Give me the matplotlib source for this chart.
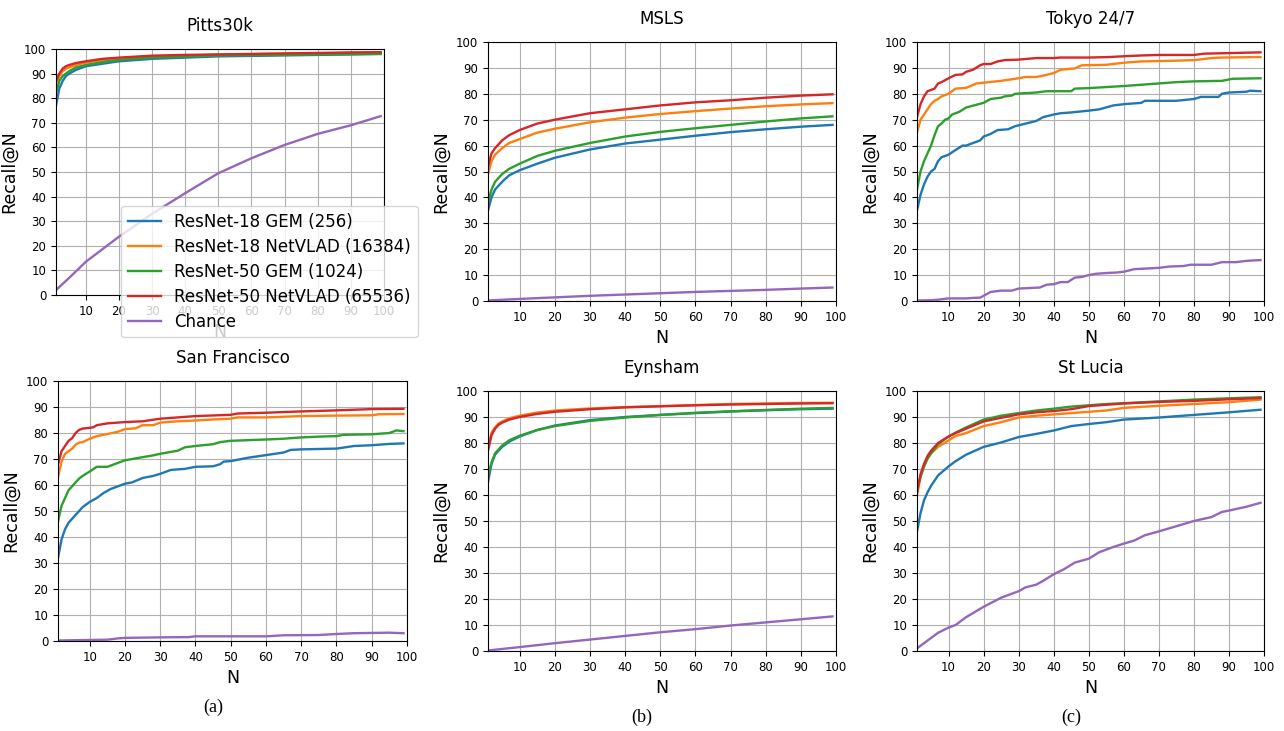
import numpy as np
import matplotlib
matplotlib.use('Agg')
import matplotlib.pyplot as plt

labels = ['ResNet-18 GEM (256)', 'ResNet-18 NetVLAD (16384)', 'ResNet-50 GEM (1024)',
          'ResNet-50 NetVLAD (65536)', 'Chance']
colors = ['#1f77b4', '#ff7f0e', '#2ca02c', '#d62728', '#9467bd']

# Pitts30k
pitts_n = [1, 2, 3, 4, 5, 7, 10, 15, 20, 30, 40, 50, 60, 70, 80, 90, 99]
pitts_r18_gem = [77, 84, 87, 89, 90, 91.5, 93, 94, 95, 96, 96.5, 97, 97.2, 97.4, 97.6, 97.8, 98]
pitts_r18_vlad = [86, 89, 91, 92, 92.5, 93.5, 94.5, 95.5, 96, 97, 97.3, 97.7, 97.9, 98.1, 98.2, 98.4, 98.5]
pitts_r50_gem = [82, 87, 89, 90, 91, 92.5, 93.5, 94.7, 95.5, 96.5, 96.9, 97.3, 97.5, 97.6, 97.8, 97.9, 98]
pitts_r50_vlad = [87, 90, 92, 93, 93.5, 94.3, 95, 96, 96.5, 97.3, 97.6, 97.8, 98, 98.2, 98.4, 98.6, 98.7]
pitts_chance_n = [1, 5, 10, 20, 30, 40, 50, 60, 70, 80, 90, 99]
pitts_chance = [2, 7, 13.5, 23.7, 33, 41.4, 49.5, 55.6, 61, 65.5, 69, 72.7]

# MSLS
msls_n = [1, 2, 3, 5, 7, 10, 15, 20, 30, 40, 50, 60, 70, 80, 90, 99]
msls_r18_gem = [35, 40, 43, 46, 48.5, 50.5, 53, 55.3, 58.5, 60.8, 62.3, 63.8, 65.2, 66.3, 67.3, 68]
msls_r18_vlad = [49, 54, 56.5, 59, 61, 62.5, 65, 66.5, 69, 70.8, 72.2, 73.3, 74.3, 75.2, 75.9, 76.4]
msls_r50_gem = [38, 43, 46, 49, 51, 53, 56, 58, 61, 63.5, 65.3, 66.7, 68, 69.3, 70.5, 71.3]
msls_r50_vlad = [52, 57, 59, 62, 64, 66, 68.5, 70, 72.5, 74, 75.5, 76.7, 77.5, 78.5, 79.3, 79.8]
msls_chance_n = [1, 10, 20, 30, 40, 50, 60, 70, 80, 90, 99]
msls_chance = [0.2, 0.8, 1.4, 2, 2.5, 3, 3.5, 3.9, 4.3, 4.8, 5.2]

# Tokyo 24/7
tokyo_r18_gem_n = [1, 2, 3, 4, 5, 6, 7, 8, 10, 12, 14, 15, 17, 19, 20, 22, 24, 27, 29, 32, 35, 37,
                   40, 42, 45, 50, 53, 57, 60, 65, 66, 75, 80, 82, 87, 88, 90, 95, 96, 99]
tokyo_r18_gem = [35, 41, 45, 48, 50, 51, 54, 55.5, 56.5, 58.3, 60, 60, 61, 62, 63.5, 64.5, 66, 66.3,
                 67.5, 68.5, 69.5, 71, 72, 72.5, 72.8, 73.5, 74, 75.5, 76, 76.5, 77.3, 77.3, 78, 78.8,
                 78.8, 80, 80.5, 80.8, 81.2, 81]
tokyo_r18_vlad_n = [1, 2, 3, 4, 5, 6, 7, 8, 10, 11, 12, 15, 18, 20, 25, 30, 32, 35, 37, 40, 42, 46,
                    48, 55, 60, 65, 75, 80, 85, 88, 99]
tokyo_r18_vlad = [65, 70, 72, 74, 76, 77.3, 78, 79, 80, 81, 82, 82.3, 84, 84.3, 85, 86, 86.5, 86.5,
                  87, 88, 89.3, 89.8, 91, 91.2, 92, 92.5, 92.8, 93, 93.8, 94, 94.2]
tokyo_r50_gem_n = [1, 2, 3, 4, 5, 6, 7, 8, 9, 10, 11, 13, 15, 18, 20, 22, 25, 26, 28, 29, 35, 38,
                   45, 46, 50, 60, 65, 70, 75, 80, 88, 91, 99]
tokyo_r50_gem = [43, 50, 54, 57, 60, 64, 67.5, 68.5, 70, 70.5, 72, 73, 74.7, 75.8, 76.5, 78, 78.5,
                 79, 79.3, 80, 80.5, 81, 81, 82, 82.2, 83, 83.5, 84, 84.5, 84.8, 85, 85.8, 86]
tokyo_r50_vlad_n = [1, 2, 3, 4, 5, 6, 7, 8, 10, 12, 14, 15, 17, 19, 20, 22, 24, 26, 30, 35, 40, 42,
                    50, 56, 60, 65, 70, 80, 83, 99]
tokyo_r50_vlad = [71, 76, 79, 81, 81.5, 82, 84, 84.5, 86, 87.3, 87.5, 88.5, 89.3, 91, 91.5, 91.5,
                  92.5, 93, 93.2, 93.8, 93.8, 94, 94, 94.2, 94.5, 94.8, 95, 95, 95.5, 96]
tokyo_chance_n = [1, 5, 7, 10, 15, 17, 19, 20, 22, 25, 28, 30, 33, 36, 38, 40, 42, 44, 46, 48, 50,
                  52, 55, 58, 60, 63, 66, 70, 73, 77, 79, 85, 88, 92, 95, 99]
tokyo_chance = [0.2, 0.3, 0.5, 1, 1, 1.2, 1.3, 2, 3.5, 4, 4, 4.8, 5, 5.2, 6.3, 6.5, 7.3, 7.3, 9,
                9.3, 10, 10.5, 10.8, 11, 11.3, 12.3, 12.5, 12.8, 13.3, 13.5, 14, 14, 15, 15, 15.5, 15.8]

# San Francisco
sf_r18_gem_n = [1, 2, 3, 4, 5, 6, 7, 8, 10, 12, 14, 16, 18, 20, 22, 25, 28, 30, 33, 37, 40, 45,
                47, 48, 50, 55, 60, 65, 67, 70, 80, 85, 90, 95, 99]
sf_r18_gem = [32, 39, 43, 45.5, 47, 48.5, 50, 51.5, 53.5, 55, 57, 58.5, 59.5, 60.5, 61, 62.7, 63.5,
              64.3, 65.8, 66.2, 67, 67.2, 68, 69, 69.2, 70.5, 71.5, 72.5, 73.5, 73.7, 74, 75, 75.3,
              75.8, 76]
sf_r18_vlad_n = [1, 2, 3, 4, 5, 6, 7, 8, 10, 12, 15, 18, 20, 23, 25, 28, 30, 35, 40, 45, 50, 52,
                 60, 70, 80, 90, 92, 99]
sf_r18_vlad = [63, 69, 72, 73, 74, 75.5, 76.3, 76.5, 77.8, 78.8, 79.6, 80.5, 81.5, 81.8, 83, 83,
               84, 84.5, 84.8, 85.2, 85.5, 86, 86, 86.5, 86.7, 86.8, 87.2, 87.3]
sf_r50_gem_n = [1, 2, 3, 4, 5, 6, 7, 8, 10, 12, 15, 17, 20, 25, 28, 30, 35, 37, 40, 45, 47, 50,
                60, 65, 70, 75, 80, 82, 90, 95, 97, 99]
sf_r50_gem = [46, 52, 55, 58, 59.5, 61, 62.5, 63.5, 65.2, 67, 67, 68, 69.5, 70.7, 71.4, 72, 73.2,
              74.5, 75, 75.7, 76.5, 77, 77.5, 77.8, 78.3, 78.6, 78.8, 79.3, 79.5, 80, 81, 80.7]
sf_r50_vlad_n = [1, 2, 3, 4, 5, 6, 7, 8, 10, 11, 12, 15, 20, 25, 30, 35, 40, 50, 52, 60, 70, 80,
                 90, 99]
sf_r50_vlad = [68, 73, 75, 77, 78, 80, 81.2, 81.7, 82, 82.2, 83, 83.7, 84.2, 84.5, 85.5, 86, 86.5,
               87, 87.5, 87.8, 88.3, 88.7, 89.2, 89.3]
sf_chance_n = [1, 10, 15, 18, 20, 30, 38, 40, 60, 65, 75, 80, 85, 95, 99]
sf_chance = [0.2, 0.4, 0.5, 1, 1.2, 1.4, 1.5, 1.8, 1.8, 2.2, 2.3, 2.7, 3, 3.2, 3]

# Eynsham
eyn_n = [1, 2, 3, 4, 5, 7, 10, 15, 20, 30, 40, 50, 60, 70, 80, 90, 99]
eyn_r18_gem = [65, 72, 75.5, 77, 78.5, 80.5, 82.5, 85, 86.7, 88.8, 90, 90.8, 91.5, 92.1, 92.6, 93, 93.2]
eyn_r18_vlad = [78, 84, 86, 87.5, 88.3, 89.5, 90.5, 91.7, 92.5, 93.3, 93.8, 94.2, 94.6, 95, 95.2, 95.4, 95.5]
eyn_r50_gem = [67, 72.5, 76, 77.5, 79, 81, 82.8, 85, 86.5, 88.5, 89.8, 90.8, 91.6, 92.2, 92.7, 93.2, 93.5]
eyn_r50_vlad = [77, 83, 85.5, 87, 87.8, 89, 90, 91.2, 92, 93, 93.7, 94.1, 94.5, 94.8, 95, 95.2, 95.3]
eyn_chance_n = [1, 10, 20, 30, 40, 50, 60, 70, 80, 90, 99]
eyn_chance = [0.2, 1.5, 3, 4.4, 5.8, 7.2, 8.4, 9.8, 11, 12.2, 13.3]

# St Lucia
stl_n = [1, 2, 3, 4, 5, 7, 10, 12, 15, 20, 25, 30, 35, 40, 45, 50, 55, 60, 70, 80, 90, 99]
stl_r18_gem = [46, 53, 58, 61, 63.5, 67.5, 71, 73, 75.5, 78.5, 80.2, 82.3, 83.5, 84.8, 86.5, 87.3,
               88, 89, 89.8, 90.8, 91.8, 92.8]
stl_r18_vlad = [60, 67, 71, 74, 76, 78.5, 81, 82.7, 83.8, 86.5, 88, 89.8, 90.5, 91, 91.5, 92, 92.5,
                93.5, 94.3, 95, 95.7, 96.7]
stl_r50_gem = [62, 67, 71, 74, 76, 79.5, 82.5, 84, 86, 89, 90.5, 91.5, 92.5, 93.2, 94, 94.5, 95,
               95.3, 96, 96.7, 97.2, 97.6]
stl_r50_vlad = [61, 68, 72, 75, 77, 80, 82.5, 83.8, 85.5, 88.3, 89.7, 91, 91.8, 92.3, 93, 94.2, 94.7,
                95.2, 95.8, 96.2, 96.8, 97.3]
stl_chance_n = [1, 3, 5, 7, 10, 12, 15, 20, 25, 30, 32, 35, 37, 40, 43, 46, 50, 53, 57, 60, 63, 66,
                70, 75, 80, 85, 88, 90, 95, 99]
stl_chance = [1, 3, 5, 7, 9, 10, 13, 17, 20.5, 23, 24.5, 25.5, 27, 29.5, 31.5, 34, 35.5, 38, 40,
              41.3, 42.5, 44.5, 46, 48, 50, 51.5, 53.5, 54, 55.5, 57]

W, H = 1284, 731
fig = plt.figure(figsize=(W / 100, H / 100), dpi=100)


def add_ax(left, top, right, bottom):
    return fig.add_axes([left / W, 1 - bottom / H, (right - left) / W, (bottom - top) / H])


def draw(ax, title, series, chance_n, chance):
    for (n, r), c, lab in zip(series, colors, labels):
        ax.plot(n, r, color=c, lw=1.7, label=lab)
    ax.plot(chance_n, chance, color=colors[4], lw=1.7, label=labels[4])
    ax.set_xlim(1, 100)
    ax.set_ylim(0, 100)
    ax.set_xticks(np.arange(10, 101, 10))
    ax.set_yticks(np.arange(0, 101, 10))
    ax.tick_params(labelsize=8.5)
    ax.grid(True, color='#b0b0b0', lw=0.8)
    ax.set_title(title, fontsize=12, pad=13)
    ax.set_xlabel('N', fontsize=12.5)
    ax.set_ylabel('Recall@N', fontsize=12.5)


ax1 = add_ax(56, 49, 384, 295)
draw(ax1, 'Pitts30k', [(pitts_n, pitts_r18_gem), (pitts_n, pitts_r18_vlad),
                       (pitts_n, pitts_r50_gem), (pitts_n, pitts_r50_vlad)],
     pitts_chance_n, pitts_chance)

ax2 = add_ax(488, 42, 836, 301)
draw(ax2, 'MSLS', [(msls_n, msls_r18_gem), (msls_n, msls_r18_vlad),
                   (msls_n, msls_r50_gem), (msls_n, msls_r50_vlad)],
     msls_chance_n, msls_chance)

ax3 = add_ax(917, 42, 1264, 301)
draw(ax3, 'Tokyo 24/7', [(tokyo_r18_gem_n, tokyo_r18_gem), (tokyo_r18_vlad_n, tokyo_r18_vlad),
                         (tokyo_r50_gem_n, tokyo_r50_gem), (tokyo_r50_vlad_n, tokyo_r50_vlad)],
     tokyo_chance_n, tokyo_chance)

ax4 = add_ax(58, 381, 407, 641)
draw(ax4, 'San Francisco', [(sf_r18_gem_n, sf_r18_gem), (sf_r18_vlad_n, sf_r18_vlad),
                            (sf_r50_gem_n, sf_r50_gem), (sf_r50_vlad_n, sf_r50_vlad)],
     sf_chance_n, sf_chance)

ax5 = add_ax(488, 391, 836, 651)
draw(ax5, 'Eynsham', [(eyn_n, eyn_r18_gem), (eyn_n, eyn_r18_vlad),
                      (eyn_n, eyn_r50_gem), (eyn_n, eyn_r50_vlad)],
     eyn_chance_n, eyn_chance)

ax6 = add_ax(917, 391, 1264, 651)
draw(ax6, 'St Lucia', [(stl_n, stl_r18_gem), (stl_n, stl_r18_vlad),
                       (stl_n, stl_r50_gem), (stl_n, stl_r50_vlad)],
     stl_chance_n, stl_chance)

ax1.legend(loc='upper left', bbox_to_anchor=(121 / W, 1 - 206 / H),
           bbox_transform=fig.transFigure, borderaxespad=0, fontsize=12,
           labelspacing=0.42)

for txt, x, y in [('(a)', 213, 707), ('(b)', 642, 717), ('(c)', 1071, 717)]:
    fig.text(x / W, 1 - y / H, txt, ha='center', va='center', fontsize=13,
             family='Liberation Serif')

fig.savefig('out.png', dpi=100)
